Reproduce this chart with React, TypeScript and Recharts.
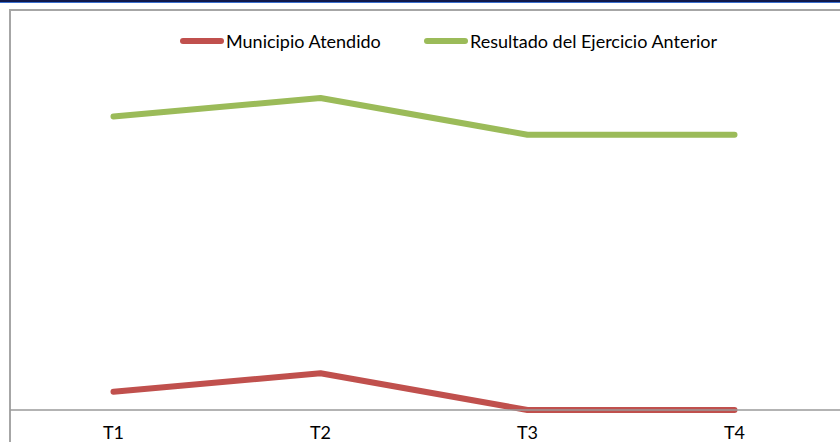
import React from 'react';
import { LineChart, Line, XAxis, YAxis } from 'recharts';

const categories = ['T1', 'T2', 'T3', 'T4'];
const municipioAtendido = [1, 2, 0, 0];
const resultadoAnterior = [16, 17, 15, 15];

const seriesNames = ['Municipio Atendido', 'Resultado del Ejercicio Anterior'];
const seriesColors = ['#C0504D', '#9BBB59'];

const data = categories.map((c, i) => ({
  cat: c,
  municipio: municipioAtendido[i],
  resultado: resultadoAnterior[i],
}));

const FONT = 'Lato, "Noto Sans", sans-serif';

const Tick = (props: any) => {
  const { x, payload } = props;
  return (
    <text x={x} y={439} textAnchor="middle" fontFamily={FONT} fontSize={18} fill="#000">
      {payload.value}
    </text>
  );
};

export default function App() {
  return (
    <div style={{ position: 'absolute', left: 0, top: 0, width: 840, height: 442, overflow: 'hidden', background: '#fff' }}>
      <div style={{ position: 'absolute', left: 0, top: 0, width: 840, height: 2, background: '#10184a' }} />
      <div style={{ position: 'absolute', left: 0, top: 2, width: 840, height: 1, background: '#3a6fd0' }} />
      <div style={{ position: 'absolute', left: 9, top: 9, width: 840, height: 2, background: '#a6a6a6' }} />
      <div style={{ position: 'absolute', left: 9, top: 9, width: 2, height: 440, background: '#a6a6a6' }} />
      <LineChart
        width={840}
        height={442}
        data={data}
        margin={{ top: 43, right: 0, bottom: 0, left: 10 }}
        style={{ position: 'absolute', left: 0, top: 0 }}
      >
        <XAxis
          dataKey="cat"
          height={32}
          padding={{ left: 103.5, right: 105.5 }}
          axisLine={{ stroke: '#9a9a9a', strokeWidth: 1.5 }}
          tickLine={false}
          tick={<Tick />}
          interval={0}
        />
        <YAxis hide domain={[0, 20]} />
        <Line
          dataKey="municipio"
          name={seriesNames[0]}
          stroke={seriesColors[0]}
          strokeWidth={6}
          strokeLinecap="round"
          strokeLinejoin="round"
          dot={false}
          activeDot={false}
          isAnimationActive={false}
        />
        <Line
          dataKey="resultado"
          name={seriesNames[1]}
          stroke={seriesColors[1]}
          strokeWidth={6}
          strokeLinecap="round"
          strokeLinejoin="round"
          dot={false}
          activeDot={false}
          isAnimationActive={false}
        />
      </LineChart>
      <div style={{ position: 'absolute', left: 0, top: 29, width: 840, height: 24, fontFamily: FONT, fontSize: 18, color: '#000' }}>
        {seriesNames.map((n, i) => (
          <div key={n} style={{ position: 'absolute', left: i === 0 ? 180 : 424, top: 0, display: 'flex', alignItems: 'center', height: 24, whiteSpace: 'nowrap' }}>
            <span style={{ display: 'inline-block', width: 44, height: 6, borderRadius: 3, background: seriesColors[i], marginRight: 2 }} />
            <span>{n}</span>
          </div>
        ))}
      </div>
    </div>
  );
}
